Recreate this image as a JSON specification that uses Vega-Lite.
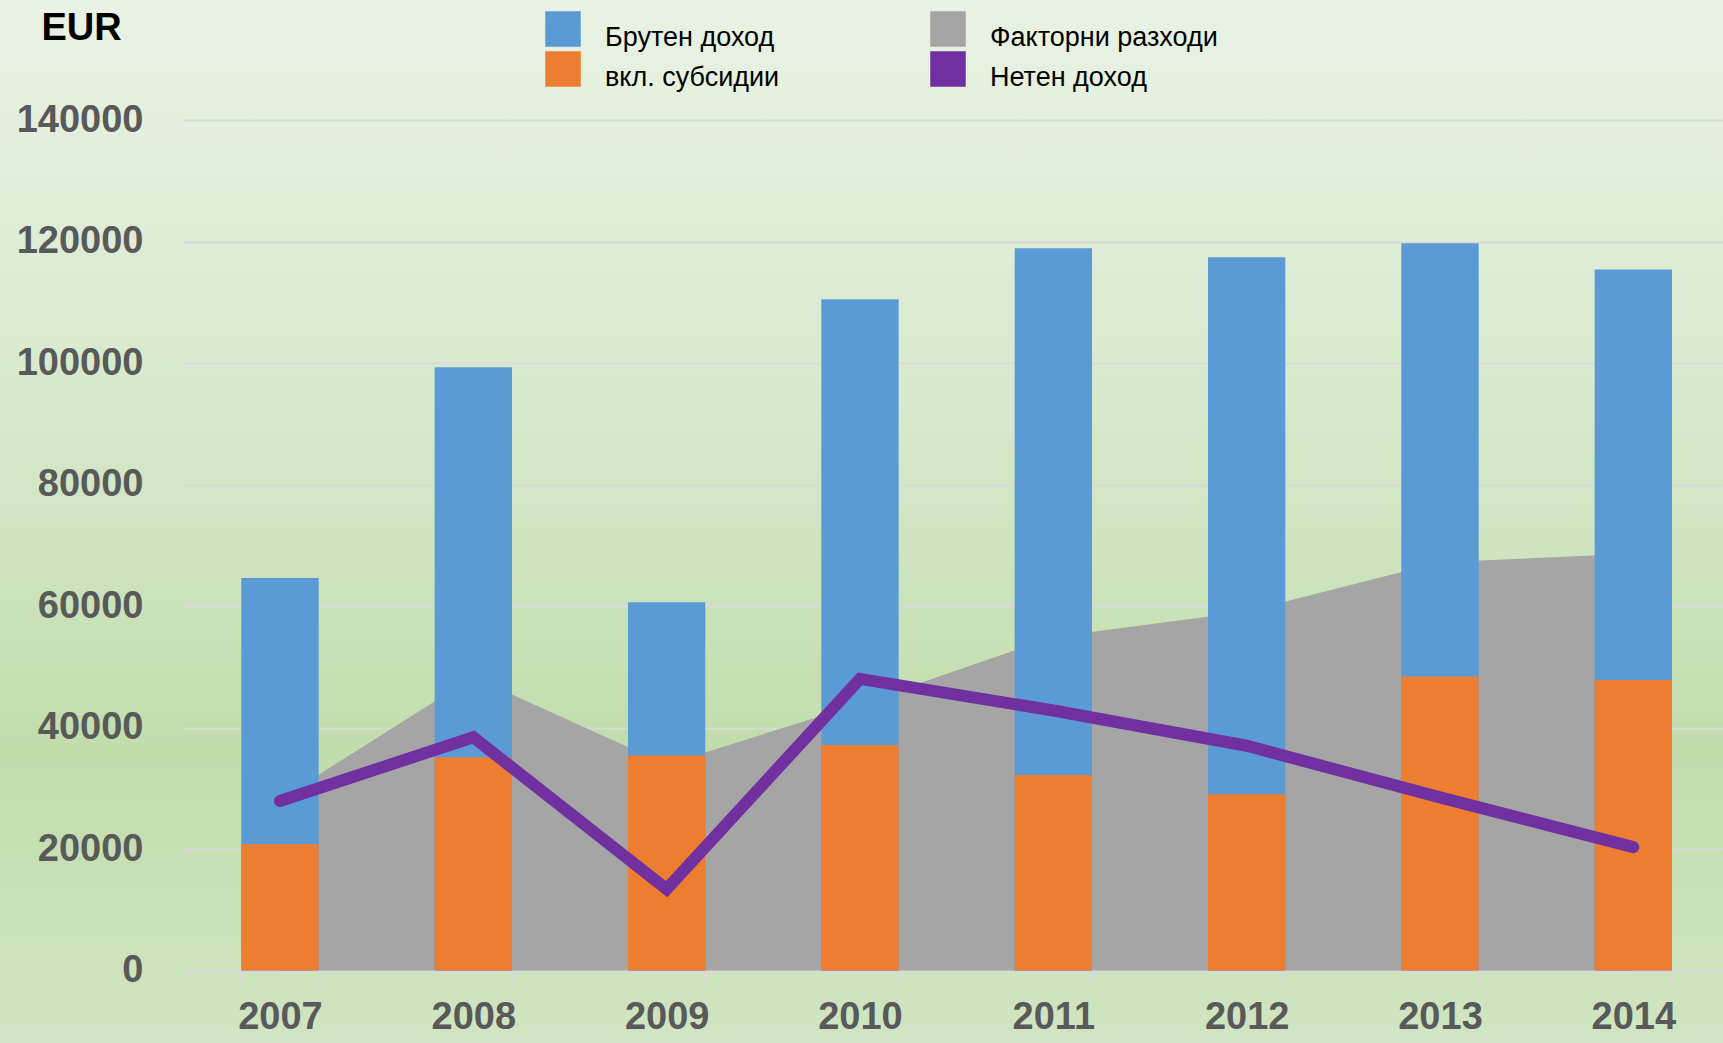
{
  "$schema": "https://vega.github.io/schema/vega-lite/v6.json",
  "width": 1723,
  "height": 1043,
  "autosize": {"type": "none"},
  "padding": 0,
  "background": "#D6E9CB",
  "view": {
    "stroke": null,
    "fill": {
      "gradient": "linear", "x1": 0, "y1": 0, "x2": 0, "y2": 1,
      "stops": [
        {"offset": 0, "color": "#E9F2E4"},
        {"offset": 0.4, "color": "#D6E9CB"},
        {"offset": 0.72, "color": "#C1DDAC"},
        {"offset": 1, "color": "#D0E5C2"}
      ]
    }
  },
  "data": {
    "values": [
      {"year": "2007", "series": "Брутен доход", "value": 64600},
      {"year": "2008", "series": "Брутен доход", "value": 99300},
      {"year": "2009", "series": "Брутен доход", "value": 60600},
      {"year": "2010", "series": "Брутен доход", "value": 110500},
      {"year": "2011", "series": "Брутен доход", "value": 118900},
      {"year": "2012", "series": "Брутен доход", "value": 117400},
      {"year": "2013", "series": "Брутен доход", "value": 119700},
      {"year": "2014", "series": "Брутен доход", "value": 115400},
      {"year": "2007", "series": "вкл. субсидии", "value": 20800},
      {"year": "2008", "series": "вкл. субсидии", "value": 35100},
      {"year": "2009", "series": "вкл. субсидии", "value": 35400},
      {"year": "2010", "series": "вкл. субсидии", "value": 37100},
      {"year": "2011", "series": "вкл. субсидии", "value": 32200},
      {"year": "2012", "series": "вкл. субсидии", "value": 29000},
      {"year": "2013", "series": "вкл. субсидии", "value": 48400},
      {"year": "2014", "series": "вкл. субсидии", "value": 47800},
      {"year": "2007", "series": "Факторни разходи", "value": 28200},
      {"year": "2008", "series": "Факторни разходи", "value": 48300},
      {"year": "2009", "series": "Факторни разходи", "value": 33900},
      {"year": "2010", "series": "Факторни разходи", "value": 43900},
      {"year": "2011", "series": "Факторни разходи", "value": 54900},
      {"year": "2012", "series": "Факторни разходи", "value": 59100},
      {"year": "2013", "series": "Факторни разходи", "value": 67200},
      {"year": "2014", "series": "Факторни разходи", "value": 68600},
      {"year": "2007", "series": "Нетен доход", "value": 27900},
      {"year": "2008", "series": "Нетен доход", "value": 38400},
      {"year": "2009", "series": "Нетен доход", "value": 13400},
      {"year": "2010", "series": "Нетен доход", "value": 48000},
      {"year": "2011", "series": "Нетен доход", "value": 42800},
      {"year": "2012", "series": "Нетен доход", "value": 37000},
      {"year": "2013", "series": "Нетен доход", "value": 28500},
      {"year": "2014", "series": "Нетен доход", "value": 20300}
    ]
  },
  "encoding": {
    "x": {
      "field": "year", "type": "ordinal",
      "scale": {"type": "band", "range": [183.3, 1730], "paddingInner": 0.6, "paddingOuter": 0.3},
      "axis": {
        "title": null, "orient": "bottom", "offset": -72.5, "labelAngle": 0,
        "tickBand": "extent", "tickSize": 13, "tickWidth": 2, "tickColor": "#D9D9D9",
        "domainColor": "#D9D9D9", "domainWidth": 2,
        "labelFont": "Liberation Sans, sans-serif",
        "labelFontSize": 38, "labelFontWeight": "bold", "labelColor": "#595959",
        "labelPadding": 15, "grid": false
      }
    },
    "y": {
      "field": "value", "type": "quantitative",
      "scale": {"domain": [0, 140000], "range": [970.5, 120], "nice": false, "zero": true},
      "axis": {
        "values": [0, 20000, 40000, 60000, 80000, 100000, 120000, 140000],
        "format": "d", "offset": -150, "domain": false, "ticks": false, "tickSize": 0,
        "labelPadding": 7, "grid": true, "gridColor": "#D9D9D9", "gridWidth": 2,
        "labelFont": "Liberation Sans, sans-serif",
        "labelFontSize": 38, "labelFontWeight": "bold", "labelColor": "#595959",
        "title": "EUR", "titleAngle": 0, "titleAlign": "left", "titleBaseline": "alphabetic",
        "titleX": -109, "titleY": 39,
        "titleFont": "Liberation Sans, sans-serif",
        "titleFontSize": 38, "titleFontWeight": "bold", "titleColor": "#000000"
      }
    }
  },
  "layer": [
    {
      "transform": [{"filter": "datum.series === 'Факторни разходи'"}],
      "mark": {"type": "area", "opacity": 1, "interpolate": "linear"},
      "encoding": {
        "color": {
          "field": "series", "type": "nominal",
          "scale": {
            "domain": ["Брутен доход", "Факторни разходи", "вкл. субсидии", "Нетен доход"],
            "range": ["#5B9BD5", "#A5A5A5", "#ED7D31", "#7030A0"]
          },
          "legend": {
            "title": null, "orient": "none", "legendX": 545, "legendY": 11,
            "columns": 2, "direction": "horizontal", "padding": 0,
            "symbolType": "square", "symbolSize": 1089,
            "symbolStrokeColor": "#41719C", "symbolStrokeWidth": 2.5, "symbolOpacity": 1,
            "labelFont": "Liberation Sans, sans-serif",
            "labelFontSize": 27, "labelColor": "#000000", "labelOffset": 24,
            "labelLimit": 400, "rowPadding": -9, "columnPadding": 146,
            "encode": {
              "symbols": {"update": {"stroke": {"value": "#41719C"}, "strokeWidth": {"value": 2.5}}},
              "labels": {"update": {"dy": {"value": 9}}}
            }
          }
        }
      }
    },
    {
      "transform": [{"filter": "datum.series === 'Брутен доход'"}],
      "mark": {"type": "bar"},
      "encoding": {"color": {"field": "series", "type": "nominal"}}
    },
    {
      "transform": [{"filter": "datum.series === 'вкл. субсидии'"}],
      "mark": {"type": "bar"},
      "encoding": {"color": {"field": "series", "type": "nominal"}}
    },
    {
      "transform": [{"filter": "datum.series === 'Нетен доход'"}],
      "mark": {"type": "line", "strokeWidth": 12, "strokeCap": "round", "strokeJoin": "miter"},
      "encoding": {"color": {"field": "series", "type": "nominal"}}
    }
  ]
}
